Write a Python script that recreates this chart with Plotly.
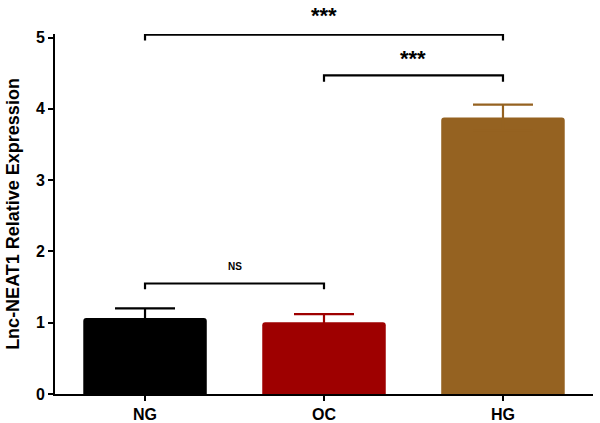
import plotly.graph_objects as go

categories = ["NG", "OC", "HG"]
means = [1.065, 1.005, 3.88]
errors = [0.135, 0.115, 0.18]
colors = ["#000000", "#9E0000", "#956221"]

# significance comparisons: (left index, right index, bracket height, tick drop, label)
comp_left = [0, 1, 0]
comp_right = [2, 2, 1]
comp_height = [5.04, 4.47, 1.55]
comp_drop = [0.08, 0.09, 0.08]
comp_label = ["***", "***", "NS"]
comp_label_size = [22, 22, 10]
comp_label_shift = [19, 17, 17]

yticks = [0, 1, 2, 3, 4, 5]

FONT = "Liberation Sans, Arial, sans-serif"

fig = go.Figure()

xs = list(range(len(categories)))
for i, c in enumerate(categories):
    # symmetric error bar in the bar's own colour: the lower half is hidden inside the bar
    fig.add_trace(go.Bar(
        x=[xs[i]], y=[means[i]], width=0.69,
        marker=dict(color=colors[i], line=dict(width=0), cornerradius=3),
        error_y=dict(type="data", symmetric=True, array=[errors[i]],
                     color=colors[i], thickness=2.2, width=30, visible=True),
        showlegend=False, hoverinfo="skip",
    ))

for l, r, h, d, lab, ls, sh in zip(comp_left, comp_right, comp_height, comp_drop,
                                    comp_label, comp_label_size, comp_label_shift):
    fig.add_trace(go.Scatter(
        x=[l, l, r, r], y=[h - d, h, h, h - d], mode="lines",
        line=dict(color="black", width=2.2), showlegend=False, hoverinfo="skip",
        cliponaxis=False,
    ))
    fig.add_annotation(x=(l + r) / 2, y=h, yshift=sh, text="<b>%s</b>" % lab, showarrow=False,
                       font=dict(family=FONT, size=ls, color="black"),
                       xanchor="center", yanchor="middle")

fig.update_layout(
    width=600, height=423,
    margin=dict(l=55, r=7, t=34, b=29, autoexpand=False),
    paper_bgcolor="white", plot_bgcolor="white",
    font=dict(family=FONT, color="black"),
    xaxis=dict(
        range=[-0.503, 2.503], tickvals=xs, ticktext=["<b>%s</b>" % c for c in categories],
        showline=True, linecolor="black", linewidth=2, ticks="outside", ticklen=5,
        tickwidth=2, tickcolor="black", tickfont=dict(family=FONT, size=16, color="black"),
        showgrid=False, zeroline=False,
    ),
    yaxis=dict(
        range=[0, 5.05], tickvals=yticks, ticktext=["<b>%d</b>" % t for t in yticks],
        showline=True, linecolor="black", linewidth=2, ticks="outside", ticklen=5,
        tickwidth=2, tickcolor="black", tickfont=dict(family=FONT, size=16, color="black"),
        showgrid=False, zeroline=False,
        title=dict(text="<b>Lnc-NEAT1 Relative Expression</b>",
                   font=dict(family=FONT, size=18, color="black"), standoff=12),
    ),
)

fig.write_html("out.html", config={"displayModeBar": False},
               post_script="document.body.style.margin='0';")
